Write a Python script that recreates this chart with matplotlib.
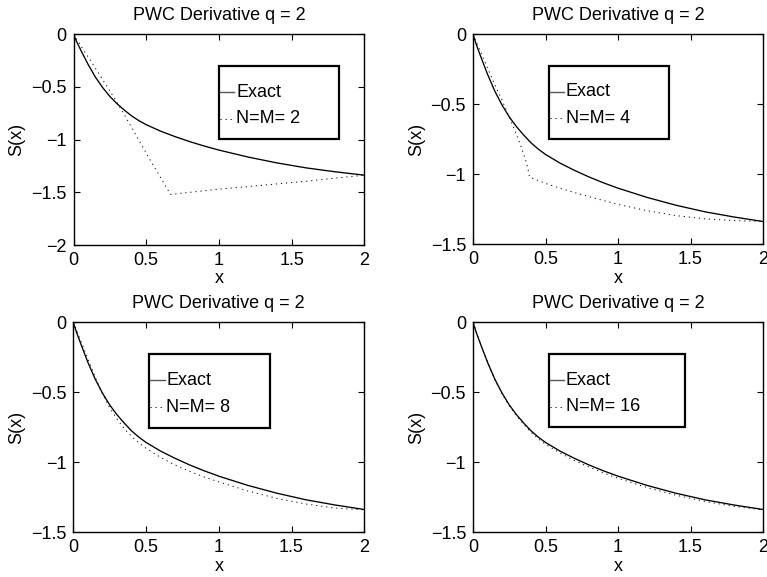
import matplotlib
matplotlib.use("Agg")
import matplotlib.pyplot as plt
from matplotlib.patches import Rectangle
from matplotlib.lines import Line2D

plt.rcParams['font.family'] = ['Liberation Sans', 'DejaVu Sans']

title_text = "PWC Derivative q = 2"
labels = ["N=M= 2", "N=M= 4", "N=M= 8", "N=M= 16"]

x_exact = [0, 0.02, 0.05, 0.1, 0.15, 0.2, 0.25, 0.3, 0.35, 0.4, 0.45, 0.5, 0.6, 0.7, 0.8,
           0.9, 1.0, 1.2, 1.4, 1.6, 1.8, 2.0]
y_exact = [0, -0.065, -0.15, -0.285, -0.405, -0.505, -0.59, -0.66, -0.72, -0.775, -0.82,
           -0.858, -0.92, -0.972, -1.019, -1.061, -1.099, -1.165, -1.221, -1.268, -1.305,
           -1.337]

x_n2 = [0, 0.067, 0.136, 0.205, 0.274, 0.342, 0.435, 0.526, 0.667, 0.8, 1.0, 1.2, 1.4, 1.6,
        1.8, 2.0]
y_n2 = [0, -0.145, -0.29, -0.44, -0.59, -0.745, -0.97, -1.19, -1.52, -1.50, -1.47, -1.445,
        -1.42, -1.395, -1.365, -1.337]

x_n4 = [0, 0.05, 0.1, 0.15, 0.2, 0.244, 0.28, 0.324, 0.37, 0.39, 0.5, 0.6, 0.8, 1.0, 1.2,
        1.4, 1.6, 1.8, 2.0]
y_n4 = [0, -0.12, -0.24, -0.36, -0.47, -0.576, -0.665, -0.78, -0.92, -1.02, -1.065, -1.10,
        -1.16, -1.215, -1.26, -1.295, -1.318, -1.33, -1.337]

x_n8 = [0, 0.05, 0.1, 0.15, 0.2, 0.25, 0.3, 0.35, 0.4, 0.45, 0.5, 0.6, 0.7, 0.8, 0.9, 1.0,
        1.2, 1.4, 1.6, 1.8, 2.0]
y_n8 = [0, -0.13, -0.26, -0.39, -0.51, -0.61, -0.69, -0.76, -0.815, -0.86, -0.90, -0.965,
        -1.02, -1.065, -1.105, -1.14, -1.205, -1.258, -1.298, -1.327, -1.34]

x_n16 = [0, 0.05, 0.1, 0.15, 0.2, 0.25, 0.3, 0.35, 0.4, 0.45, 0.5, 0.6, 0.7, 0.8, 0.9, 1.0,
         1.2, 1.4, 1.6, 1.8, 2.0]
y_n16 = [0, -0.148, -0.285, -0.407, -0.51, -0.597, -0.668, -0.73, -0.786, -0.832, -0.871,
         -0.934, -0.987, -1.034, -1.076, -1.114, -1.18, -1.235, -1.28, -1.315, -1.34]

approx_x = [x_n2, x_n4, x_n8, x_n16]
approx_y = [y_n2, y_n4, y_n8, y_n16]
ylims = [(-2, 0), (-1.5, 0), (-1.5, 0), (-1.5, 0)]
xticks = [0, 0.5, 1, 1.5, 2]
xticklabels = ["0", "0.5", "1", "1.5", "2"]
yticks_list = [[-2, -1.5, -1, -0.5, 0], [-1.5, -1, -0.5, 0], [-1.5, -1, -0.5, 0],
               [-1.5, -1, -0.5, 0]]
yticklabels_list = [["\u22122", "\u22121.5", "\u22121", "\u22120.5", "0"],
                    ["\u22121.5", "\u22121", "\u22120.5", "0"],
                    ["\u22121.5", "\u22121", "\u22120.5", "0"],
                    ["\u22121.5", "\u22121", "\u22120.5", "0"]]

W, H = 767, 577
fig = plt.figure(figsize=(W / 100, H / 100), dpi=100)

# axes rectangles in pixels: left, top, right, bottom
rects = [(73.5, 34.3, 364.3, 245.0), (473.0, 34.3, 763.0, 244.3),
         (73.3, 322.3, 364.3, 532.3), (473.0, 322.3, 763.0, 532.3)]
# legend boxes in axes fraction: left, bottom, right, top
legboxes = [(0.500, 0.502, 0.913, 0.851), (0.261, 0.502, 0.676, 0.851),
            (0.261, 0.497, 0.676, 0.850), (0.261, 0.500, 0.731, 0.850)]

fs = 13
for i in range(4):
    l, t, r, b = rects[i]
    ax = fig.add_axes([l / W, 1 - b / H, (r - l) / W, (b - t) / H])
    ax.plot(x_exact, y_exact, color='black', lw=0.95, solid_joinstyle='round')
    ax.plot(approx_x[i], approx_y[i], color='black', lw=0.7, linestyle=(0, (1.2, 4.0)))
    ax.set_xlim(0, 2)
    ax.set_ylim(*ylims[i])
    ax.set_xticks(xticks)
    ax.set_xticklabels(xticklabels, fontsize=fs)
    ax.set_yticks(yticks_list[i])
    ax.set_yticklabels(yticklabels_list[i], fontsize=fs)
    ax.tick_params(direction='in', top=True, right=True, length=4, width=0.8, pad=5)
    for s in ax.spines.values():
        s.set_linewidth(1.0)
    ax.set_title(title_text, fontsize=fs, pad=10)
    ax.set_xlabel("x", fontsize=fs, labelpad=1)
    ax.set_ylabel("S(x)", fontsize=fs, labelpad=4)

    # legend box
    lb, bb, rb, tb = legboxes[i]
    ax.add_patch(Rectangle((lb, bb), rb - lb, tb - bb, transform=ax.transAxes,
                           facecolor='white', edgecolor='black', lw=1.6, zorder=5))
    hgt = tb - bb
    y1 = tb - hgt * 0.36
    y2 = tb - hgt * 0.72
    hl = 15.5 / (r - l)
    ax.add_line(Line2D([lb + 0.004, lb + hl], [y1, y1], transform=ax.transAxes,
                       color='#555555', lw=1.0, zorder=6))
    ax.add_line(Line2D([lb + 0.004, lb + hl], [y2, y2], transform=ax.transAxes,
                       color='black', lw=0.7, linestyle=(0, (1.2, 4.0)), zorder=6))
    ax.text(lb + hl + 0.006, y1, "Exact", transform=ax.transAxes, fontsize=fs,
            va='center', ha='left', zorder=7)
    ax.text(lb + hl + 0.006, y2, labels[i], transform=ax.transAxes, fontsize=fs,
            va='center', ha='left', zorder=7)

fig.savefig("out.png", dpi=100)
